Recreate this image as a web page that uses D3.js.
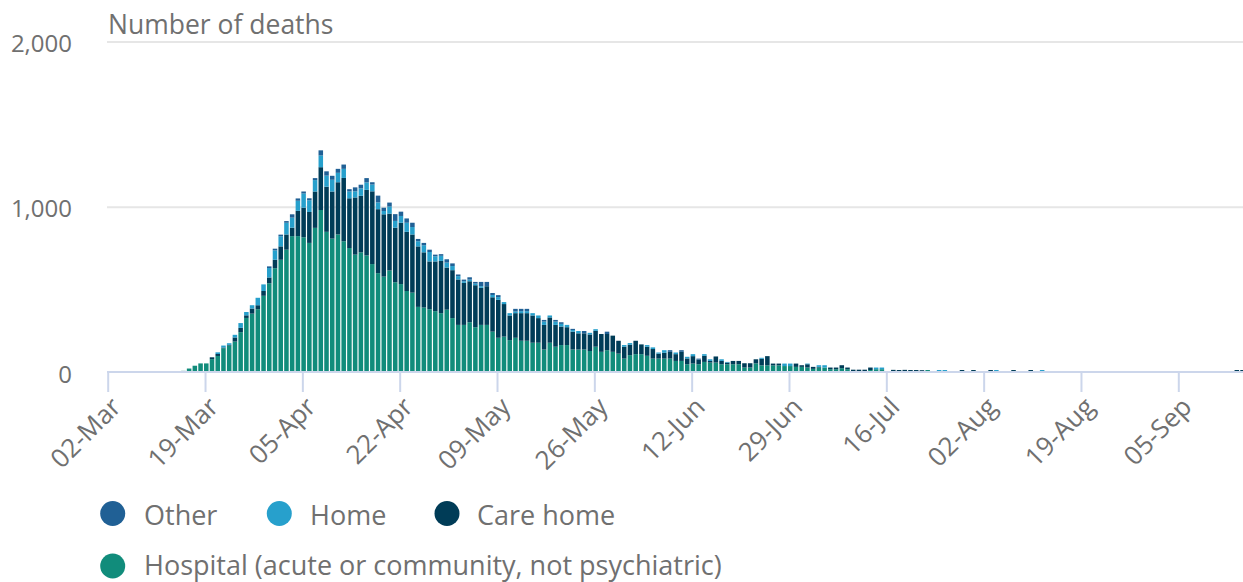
<!DOCTYPE html>
<html>
<head>
<meta charset="utf-8">
<script src="https://cdn.jsdelivr.net/npm/d3@7"></script>
<style>
  html, body { margin: 0; padding: 0; background: #fff; }
  svg { display: block; font-family: "Open Sans", sans-serif; }
</style>
</head>
<body>
<svg id="chart" width="1243" height="582"></svg>
<script>
// ---- data (daily deaths by place of occurrence, from 15-Mar) ----
const startDate = "2020-03-15";
const hospital = [
  10,24,41,55,55,81,100,147,163,187,
  244,330,356,383,464,540,631,682,743,825,
  825,818,784,875,983,851,810,835,794,753,
  713,727,708,656,601,580,617,546,535,493,
  483,397,393,383,371,359,380,329,288,288,
  304,274,288,288,247,210,217,196,210,192,
  192,180,180,139,180,156,166,166,139,139,
  139,130,156,125,135,125,114,84,105,111,
  111,101,84,84,84,84,70,70,50,54,
  50,64,60,60,50,50,50,50,30,30,
  55,43,43,43,43,39,39,34,34,30,
  22,30,30,20,20,26,20,8,8,8,
  15,20,20,0,4,0,4,0,0,0,
  15,0,0,0,0,0,0,0,0,0,
  0,0,0,0,0,0,0,0,0,0,
  0,0,0,0,0,0,0,0,0,0,
  0,0,0,0,0,0,0,0,0,0,
  0,0,0,0,0,0,0,0,0,0,
  0,0,0,0,0,0
];
const careHome = [
  0,0,0,0,0,11,12,4,4,25,
  26,16,31,24,29,35,51,81,92,51,
  153,179,187,220,259,273,285,316,383,301,
  346,342,397,440,387,377,344,330,371,358,
  352,366,334,289,301,316,255,290,275,254,
  248,254,224,234,208,230,197,149,149,167,
  167,165,149,149,153,132,112,108,108,98,
  98,100,96,108,98,98,78,72,63,81,
  59,55,58,30,35,41,41,55,35,45,
  28,37,10,37,20,10,20,20,26,26,
  25,40,56,11,11,0,0,20,10,20,
  12,4,0,10,10,18,10,9,9,9,
  15,0,0,0,12,15,12,15,15,14,
  0,0,0,0,0,0,15,0,15,0,
  0,15,7,0,0,15,0,0,15,0,
  0,0,0,0,0,0,0,0,0,0,
  0,0,0,0,0,0,0,0,0,0,
  0,0,0,0,0,0,0,0,0,0,
  0,0,0,0,15,15
];
const home = [
  0,0,0,0,0,0,10,12,10,16,
  29,20,20,45,40,57,57,61,71,61,
  61,86,71,69,71,67,71,57,55,41,
  37,45,45,41,41,20,43,41,41,55,
  45,31,43,57,31,31,30,25,20,10,
  10,10,10,0,14,16,12,14,10,12,
  12,14,16,20,12,20,16,14,10,14,
  0,10,10,0,0,0,0,10,10,0,
  0,10,10,7,16,0,10,0,10,12,
  0,10,10,0,10,4,0,0,0,0,
  0,6,0,0,0,15,15,0,0,4,
  0,10,14,0,0,0,0,0,0,0,
  0,10,10,0,0,0,0,0,0,0,
  0,0,15,15,0,0,0,0,0,0,
  0,0,8,0,0,0,0,0,0,0,
  15,0,0,0,0,0,0,0,0,0,
  0,0,0,0,0,0,0,0,0,0,
  0,0,0,0,0,0,0,0,0,0,
  0,0,0,0,0,0
];
const other = [
  0,0,0,0,0,0,0,0,0,0,
  0,0,0,0,0,10,10,10,10,20,
  14,12,12,12,31,26,24,24,26,14,
  24,22,26,14,41,20,24,41,26,26,
  26,14,14,14,10,10,20,16,10,10,
  14,10,26,26,12,12,0,0,16,14,
  14,0,0,10,0,10,10,0,7,0,
  14,0,0,0,14,0,0,0,0,0,
  0,0,0,0,0,10,0,10,0,0,
  6,0,0,0,0,0,0,0,0,0,
  0,0,0,0,0,0,0,0,0,0,
  0,0,0,0,0,0,0,0,0,0,
  0,0,0,0,0,0,0,0,0,0,
  0,0,0,0,0,0,0,0,0,0,
  0,0,0,0,0,0,0,0,0,0,
  0,0,0,0,0,0,0,0,0,0,
  0,0,0,0,0,0,0,0,0,0,
  0,0,0,0,0,0,0,0,0,0,
  0,0,0,0,0,0
];
const xTickLabels = ["02-Mar","19-Mar","05-Apr","22-Apr","09-May","26-May","12-Jun","29-Jun","16-Jul","02-Aug","19-Aug","05-Sep"];
const yTickValues = [0, 1000, 2000];
const seriesNames = ["Hospital (acute or community, not psychiatric)", "Care home", "Home", "Other"];
const seriesColors = ["#118c7b", "#003c57", "#27a0cc", "#206095"];
const legendOrder = ["Other", "Home", "Care home", "Hospital (acute or community, not psychiatric)"];

// ---- build table ----
const parseDay = d3.utcParse("%Y-%m-%d");
const parseTick = d3.utcParse("%d-%b-%Y");
const start = parseDay(startDate);
const keys = ["hospital", "care", "home", "other"];
const rows = hospital.map((h, k) => ({
  date: d3.utcDay.offset(start, k),
  hospital: h, care: careHome[k], home: home[k], other: other[k]
}));
const stacked = d3.stack().keys(keys)(rows);

// ---- scales ----
const svg = d3.select("#chart");
const textColor = "#707070";
const tickDates = xTickLabels.map(l => parseTick(l + "-2020"));
const x = d3.scaleUtc().domain([tickDates[0], tickDates[tickDates.length - 1]]).range([107.7, 1178.3]);
const y = d3.scaleLinear().domain([0, 2000]).range([372.5, 41.9]);
const step = x(d3.utcDay.offset(tickDates[0], 1)) - x(tickDates[0]);
const barW = step - 1.2;

// ---- gridlines ----
svg.append("g").selectAll("line")
  .data(yTickValues.filter(v => v > 0))
  .join("line")
  .attr("x1", 107).attr("x2", 1243)
  .attr("y1", d => y(d)).attr("y2", d => y(d))
  .attr("stroke", "#e6e6e6").attr("stroke-width", 2);

// ---- title ----
svg.append("text")
  .attr("x", 108).attr("y", 34)
  .attr("fill", textColor).attr("font-size", 26.5)
  .text("Number of deaths");

// ---- y axis labels ----
const yAxis = d3.axisLeft(y).tickValues(yTickValues).tickFormat(d3.format(",")).tickSize(0).tickPadding(0);
const gy = svg.append("g").attr("transform", "translate(72,0)").call(yAxis);
gy.select(".domain").remove();
gy.selectAll("text").attr("fill", textColor).attr("font-size", 24)
  .attr("font-family", "'Open Sans', sans-serif").attr("dy", "0.4em");

// ---- bars ----
const gBars = svg.append("g");
stacked.forEach((layer, si) => {
  gBars.append("g").attr("fill", seriesColors[si])
    .selectAll("rect")
    .data(layer.filter(d => d[1] - d[0] > 0))
    .join("rect")
    .attr("x", d => x(d.data.date) - 1)
    .attr("width", barW)
    .attr("y", d => y(d[1]))
    .attr("height", d => y(d[0]) - y(d[1]));
});

// ---- x axis ----
const xAxis = d3.axisBottom(x).tickValues(tickDates).tickFormat(d3.utcFormat("%d-%b")).tickSize(20).tickSizeOuter(0);
const gx = svg.append("g").attr("transform", "translate(0,372)").call(xAxis);
gx.select(".domain").attr("stroke", "#ccd6eb").attr("stroke-width", 2).attr("d", "M107,0H1243");
gx.selectAll(".tick line").attr("stroke", "#ccd6eb").attr("stroke-width", 2);
gx.selectAll(".tick text")
  .attr("fill", textColor).attr("font-size", 26)
  .attr("font-family", "'Open Sans', sans-serif")
  .attr("x", 0).attr("y", 0).attr("dy", "0.35em")
  .attr("text-anchor", "end")
  .attr("transform", "translate(8,30) rotate(-45)");

// ---- legend ----
const legendPos = [
  { cx: 112.7, cy: 513.5, tx: 144, ty: 524.5 },
  { cx: 279.3, cy: 513.5, tx: 310, ty: 524.5 },
  { cx: 447, cy: 513.5, tx: 477, ty: 524.5 },
  { cx: 112.7, cy: 566, tx: 144, ty: 574.5 }
];
const gl = svg.append("g");
legendOrder.forEach((name, k) => {
  const p = legendPos[k];
  gl.append("circle").attr("cx", p.cx).attr("cy", p.cy).attr("r", 12.5)
    .attr("fill", seriesColors[seriesNames.indexOf(name)]);
  gl.append("text").attr("x", p.tx).attr("y", p.ty)
    .attr("fill", textColor).attr("font-size", 27).text(name);
});
</script>
</body>
</html>
